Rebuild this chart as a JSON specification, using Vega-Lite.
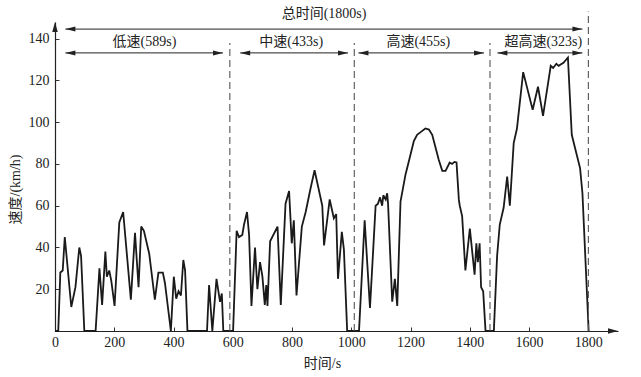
{
  "$schema": "https://vega.github.io/schema/vega-lite/v6.json",
  "width": 563,
  "height": 309,
  "autosize": "none",
  "padding": {"left": 55, "top": 22, "right": 23, "bottom": 46},
  "background": "white",
  "config": {"view": {"stroke": null}, "font": "Liberation Serif"},
  "datasets": {
    "speed": [
      {"t": 0, "v": 0}, {"t": 11, "v": 0}, {"t": 18, "v": 28}, {"t": 26, "v": 29}, {"t": 33, "v": 45}, {"t": 55, "v": 11.5}, {"t": 69, "v": 21}, {"t": 82, "v": 40}, {"t": 88, "v": 36}, {"t": 99, "v": 0},
      {"t": 137, "v": 0}, {"t": 150, "v": 30}, {"t": 159, "v": 12.5}, {"t": 170, "v": 38}, {"t": 175, "v": 26}, {"t": 183, "v": 29}, {"t": 190, "v": 24}, {"t": 201, "v": 12}, {"t": 217, "v": 52}, {"t": 230, "v": 57},
      {"t": 256, "v": 15}, {"t": 270, "v": 47}, {"t": 282, "v": 21}, {"t": 291, "v": 50}, {"t": 300, "v": 48}, {"t": 318, "v": 37}, {"t": 337, "v": 15}, {"t": 349, "v": 28}, {"t": 364, "v": 28}, {"t": 371, "v": 23},
      {"t": 391, "v": 0}, {"t": 401, "v": 26}, {"t": 409, "v": 15.5}, {"t": 417, "v": 19}, {"t": 425, "v": 17}, {"t": 433, "v": 34}, {"t": 439, "v": 29}, {"t": 447, "v": 0}, {"t": 513, "v": 0}, {"t": 520, "v": 22},
      {"t": 531, "v": 0}, {"t": 545, "v": 25}, {"t": 557, "v": 14}, {"t": 563, "v": 18}, {"t": 568, "v": 0}, {"t": 601, "v": 0}, {"t": 613, "v": 48}, {"t": 621, "v": 45}, {"t": 632, "v": 46}, {"t": 638, "v": 51},
      {"t": 648, "v": 57}, {"t": 655, "v": 46}, {"t": 663, "v": 12}, {"t": 675, "v": 40}, {"t": 683, "v": 20}, {"t": 692, "v": 33}, {"t": 700, "v": 26}, {"t": 708, "v": 12.5}, {"t": 713, "v": 22}, {"t": 717, "v": 12},
      {"t": 726, "v": 43}, {"t": 751, "v": 50}, {"t": 762, "v": 12.5}, {"t": 778, "v": 61}, {"t": 790, "v": 67}, {"t": 799, "v": 42}, {"t": 806, "v": 53}, {"t": 815, "v": 17}, {"t": 833, "v": 50}, {"t": 846, "v": 57},
      {"t": 862, "v": 68}, {"t": 876, "v": 77}, {"t": 902, "v": 60}, {"t": 908, "v": 41}, {"t": 927, "v": 63}, {"t": 941, "v": 54}, {"t": 949, "v": 56}, {"t": 955, "v": 25}, {"t": 968, "v": 47.5}, {"t": 975, "v": 39},
      {"t": 986, "v": 0}, {"t": 1026, "v": 0}, {"t": 1045, "v": 53}, {"t": 1063, "v": 11}, {"t": 1082, "v": 60}, {"t": 1090, "v": 61}, {"t": 1097, "v": 64}, {"t": 1104, "v": 60}, {"t": 1108, "v": 65}, {"t": 1116, "v": 63},
      {"t": 1121, "v": 66}, {"t": 1124, "v": 61}, {"t": 1138, "v": 14}, {"t": 1147, "v": 25}, {"t": 1155, "v": 12}, {"t": 1166, "v": 62}, {"t": 1183, "v": 75}, {"t": 1198, "v": 83.5}, {"t": 1211, "v": 91}, {"t": 1222, "v": 94},
      {"t": 1236, "v": 95.5}, {"t": 1250, "v": 97}, {"t": 1262, "v": 96.5}, {"t": 1273, "v": 94}, {"t": 1284, "v": 88}, {"t": 1295, "v": 82}, {"t": 1307, "v": 76.7}, {"t": 1318, "v": 76.7}, {"t": 1332, "v": 80.7}, {"t": 1340, "v": 80},
      {"t": 1348, "v": 81}, {"t": 1355, "v": 80.7}, {"t": 1363, "v": 62.8}, {"t": 1366, "v": 60}, {"t": 1374, "v": 55}, {"t": 1385, "v": 29}, {"t": 1400, "v": 49}, {"t": 1416, "v": 27}, {"t": 1422, "v": 42}, {"t": 1427, "v": 33},
      {"t": 1433, "v": 42}, {"t": 1438, "v": 21}, {"t": 1445, "v": 19}, {"t": 1453, "v": 0}, {"t": 1481, "v": 0}, {"t": 1492, "v": 36}, {"t": 1501, "v": 51}, {"t": 1514, "v": 59}, {"t": 1526, "v": 74}, {"t": 1535, "v": 60},
      {"t": 1548, "v": 90}, {"t": 1559, "v": 97}, {"t": 1580, "v": 124}, {"t": 1612, "v": 106}, {"t": 1630, "v": 117}, {"t": 1647, "v": 103}, {"t": 1673, "v": 127}, {"t": 1681, "v": 126}, {"t": 1692, "v": 128}, {"t": 1700, "v": 127},
      {"t": 1705, "v": 127.5}, {"t": 1716, "v": 128.5}, {"t": 1731, "v": 131}, {"t": 1744, "v": 94}, {"t": 1758, "v": 86}, {"t": 1772, "v": 78}, {"t": 1780, "v": 66}, {"t": 1801, "v": 0}
    ],
    "bounds": [
      {"t": 590, "lo": 0, "hi": 138},
      {"t": 1010, "lo": 0, "hi": 138},
      {"t": 1468, "lo": 0, "hi": 138},
      {"t": 1800, "lo": 0, "hi": 153}
    ],
    "spans": [
      {"a": 35, "b": 1780, "v": 144.6},
      {"a": 35, "b": 567, "v": 133.2},
      {"a": 625, "b": 989, "v": 133.2},
      {"a": 1024, "b": 1448, "v": 133.2},
      {"a": 1493, "b": 1780, "v": 133.2}
    ],
    "labels": [
      {"t": 908, "v": 151.6, "text": "总时间(1800s)"},
      {"t": 302, "v": 138.3, "text": "低速(589s)"},
      {"t": 797, "v": 138.3, "text": "中速(433s)"},
      {"t": 1226, "v": 138.3, "text": "高速(455s)"},
      {"t": 1648, "v": 138.3, "text": "超高速(323s)"}
    ]
  },
  "layer": [
    {
      "data": {"name": "speed"},
      "mark": {"type": "line", "color": "#1a1a1a", "strokeWidth": 1.8, "strokeJoin": "miter", "strokeMiterLimit": 3},
      "encoding": {
        "x": {
          "field": "t", "type": "quantitative",
          "scale": {"domain": [0, 1900], "nice": false},
          "axis": {
            "title": "时间/s",
            "titleFont": "Liberation Serif, Noto Sans CJK SC",
            "titleFontSize": 14, "titleFontWeight": "normal", "titleColor": "#222",
            "titleX": 267, "titleY": 32, "titleBaseline": "middle", "titleAlign": "center",
            "values": [0, 100, 200, 300, 400, 500, 600, 700, 800, 900, 1000, 1100, 1200, 1300, 1400, 1500, 1600, 1700, 1800],
            "format": "d",
            "labelExpr": "datum.value % 200 == 0 ? datum.label : ''",
            "labelFlush": false,
            "labelFont": "Liberation Serif", "labelFontSize": 14, "labelColor": "#222",
            "labelPadding": 8,
            "tickSize": -4, "tickColor": "#333", "tickWidth": 1,
            "domainColor": "#222", "domainWidth": 1.2,
            "grid": false
          }
        },
        "y": {
          "field": "v", "type": "quantitative",
          "scale": {"domain": [0, 148], "nice": false},
          "axis": {
            "title": "速度/(km/h)",
            "titleFont": "Liberation Serif, Noto Sans CJK SC",
            "titleFontSize": 14, "titleFontWeight": "normal", "titleColor": "#222",
            "titleX": -40, "titleY": 167, "titleBaseline": "middle", "titleAlign": "center", "titleAngle": -90,
            "values": [0, 10, 20, 30, 40, 50, 60, 70, 80, 90, 100, 110, 120, 130, 140],
            "labelExpr": "datum.value % 20 == 0 && datum.value > 0 ? datum.label : ''",
            "labelFont": "Liberation Serif", "labelFontSize": 14, "labelColor": "#222",
            "labelPadding": 10,
            "tickSize": -4, "tickColor": "#333", "tickWidth": 1,
            "domainColor": "#222", "domainWidth": 1.2,
            "grid": false
          }
        }
      }
    },
    {
      "data": {"name": "bounds"},
      "mark": {"type": "rule", "color": "#555", "strokeDash": [7, 4], "strokeWidth": 1.1},
      "encoding": {
        "x": {"field": "t", "type": "quantitative"},
        "y": {"field": "lo", "type": "quantitative"},
        "y2": {"field": "hi"}
      }
    },
    {
      "data": {"name": "spans"},
      "mark": {"type": "rule", "color": "#222", "strokeWidth": 1},
      "encoding": {
        "x": {"field": "a", "type": "quantitative"},
        "x2": {"field": "b"},
        "y": {"field": "v", "type": "quantitative"}
      }
    },
    {
      "data": {"name": "spans"},
      "mark": {"type": "point", "shape": "M0,0L2,-0.5L2,0.5Z", "filled": true, "color": "#222", "opacity": 1, "size": 100},
      "encoding": {
        "x": {"field": "a", "type": "quantitative"},
        "y": {"field": "v", "type": "quantitative"}
      }
    },
    {
      "data": {"name": "spans"},
      "mark": {"type": "point", "shape": "M0,0L-2,-0.5L-2,0.5Z", "filled": true, "color": "#222", "opacity": 1, "size": 100},
      "encoding": {
        "x": {"field": "b", "type": "quantitative"},
        "y": {"field": "v", "type": "quantitative"}
      }
    },
    {
      "data": {"values": [{}]},
      "mark": {"type": "point", "shape": "M0,0L-2,-0.55L-2,0.55Z", "filled": true, "color": "#222", "opacity": 1, "size": 100},
      "encoding": {
        "x": {"datum": 1900, "type": "quantitative"},
        "y": {"datum": 0, "type": "quantitative"}
      }
    },
    {
      "data": {"values": [{}]},
      "mark": {"type": "point", "shape": "M0,0L-0.55,2L0.55,2Z", "filled": true, "color": "#222", "opacity": 1, "size": 100},
      "encoding": {
        "x": {"datum": 0, "type": "quantitative"},
        "y": {"datum": 148, "type": "quantitative"}
      }
    },
    {
      "data": {"name": "labels"},
      "mark": {"type": "text", "font": "Liberation Serif, Noto Sans CJK SC", "fontSize": 14, "color": "#222", "baseline": "middle", "align": "center"},
      "encoding": {
        "x": {"field": "t", "type": "quantitative"},
        "y": {"field": "v", "type": "quantitative"},
        "text": {"field": "text"}
      }
    }
  ]
}
